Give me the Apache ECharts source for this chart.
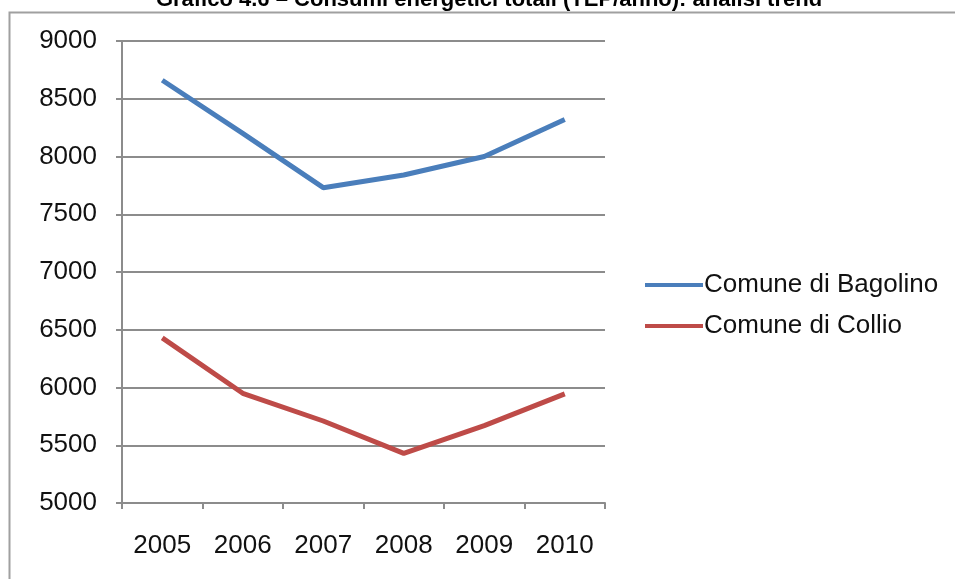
<!DOCTYPE html>
<html>
<head>
<meta charset="utf-8">
<script src="https://cdn.jsdelivr.net/npm/echarts@6/dist/echarts.min.js"></script>
<style>
html,body{margin:0;padding:0;background:#fff;}
#chart{width:955px;height:579px;}
</style>
</head>
<body>
<div id="chart"></div>
<script>
const titleText = 'Grafico 4.6 – Consumi energetici totali (TEP/anno): analisi trend';
const years = ['2005', '2006', '2007', '2008', '2009', '2010'];
const bagolino = [8660, 8200, 7730, 7840, 8000, 8320];
const collio = [6430, 5950, 5710, 5430, 5670, 5945];
const seriesNames = ['Comune di Bagolino', 'Comune di Collio'];

const chart = echarts.init(document.getElementById('chart'), null, {renderer: 'canvas'});
const font = 'Liberation Sans, Arial, sans-serif';
chart.setOption({
  animation: false,
  backgroundColor: '#fff',
  title: {
    text: titleText,
    left: 484,
    textAlign: 'center',
    top: -16,
    textStyle: {fontFamily: font, fontSize: 22, fontWeight: 'bold', color: '#000'}
  },
  graphic: [{
    type: 'rect',
    shape: {x: 9.5, y: 12.5, width: 1000, height: 700},
    style: {fill: 'none', stroke: '#a0a0a0', lineWidth: 2},
    silent: true,
    z: 100
  }],
  legend: {
    orient: 'vertical',
    left: 640,
    top: 267,
    itemWidth: 58,
    itemHeight: 4,
    itemGap: 15,
    icon: 'rect',
    textStyle: {fontFamily: font, fontSize: 26, color: '#111', padding: [0, 0, 0, -4]},
    data: seriesNames
  },
  grid: {left: 122, right: 350, top: 41, bottom: 76, containLabel: false},
  xAxis: {
    type: 'category',
    data: years,
    boundaryGap: true,
    axisLine: {lineStyle: {color: '#8c8c8c', width: 2}},
    axisTick: {show: true, length: 6, lineStyle: {color: '#8c8c8c', width: 2}},
    axisLabel: {fontFamily: font, fontSize: 26, color: '#111', margin: 30}
  },
  yAxis: {
    type: 'value',
    min: 5000,
    max: 9000,
    interval: 500,
    axisLine: {show: true, lineStyle: {color: '#8c8c8c', width: 2}},
    axisTick: {show: true, length: 6, lineStyle: {color: '#8c8c8c', width: 2}},
    axisLabel: {fontFamily: font, fontSize: 26, color: '#111', margin: 25, formatter: v => String(v)},
    splitLine: {show: true, lineStyle: {color: '#8c8c8c', width: 2}}
  },
  series: [{
    name: seriesNames[0],
    type: 'line',
    data: bagolino,
    symbol: 'none',
    lineStyle: {color: '#4a7ebb', width: 5},
    itemStyle: {color: '#4a7ebb'}
  }, {
    name: seriesNames[1],
    type: 'line',
    data: collio,
    symbol: 'none',
    lineStyle: {color: '#be4b48', width: 5},
    itemStyle: {color: '#be4b48'}
  }]
});
</script>
</body>
</html>
